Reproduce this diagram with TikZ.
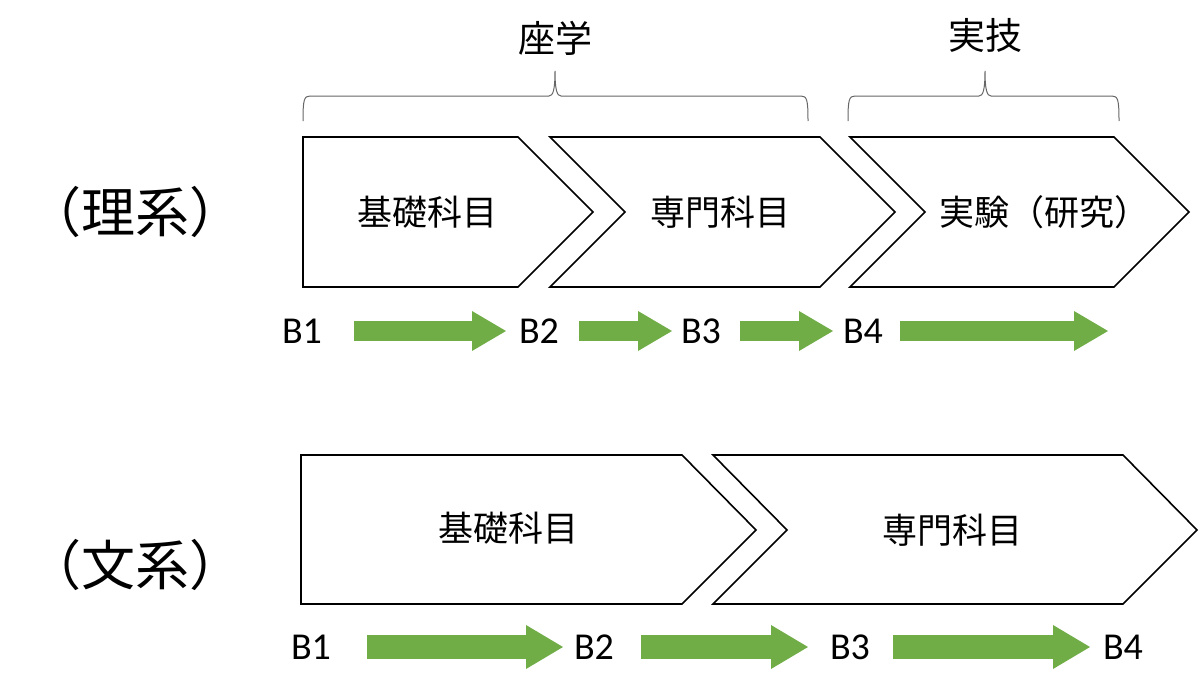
\documentclass[tikz,border=0pt]{standalone}
\usepackage{fontspec}
\setmainfont{Carlito}
\newfontfamily\jpfont{Noto Sans CJK JP}
\usetikzlibrary{arrows.meta}
\definecolor{arrowgreen}{HTML}{70AD47}

\begin{document}
\begin{tikzpicture}[x=0.5pt,y=-0.5pt,join=miter, % coordinates in pixels of the slide
    chev/.style={draw=black,line width=0.8pt,fill=white},
    brc/.style={draw=black!60,line width=0.5pt},
    jlabel/.style={font=\jpfont\fontsize{17.5}{21}\selectfont},
    jtitle/.style={font=\jpfont\fontsize{18.5}{22}\selectfont},
    jside/.style={font=\jpfont\fontsize{27}{32}\selectfont},
    blabel/.style={font=\fontsize{19}{22}\selectfont,inner sep=0pt},
    garrow/.style={draw=arrowgreen,line width=10pt,
        -{Triangle[length=17pt,width=20pt,line width=0pt]}},
    garrowb/.style={draw=arrowgreen,line width=12pt,
        -{Triangle[length=18.5pt,width=22pt,line width=0pt]}}]
   \useasboundingbox (0,0) rectangle (1200,696);
   % braces
   \draw[brc] (303,121) .. controls (303,100) and (304,96) .. (310,96) -- (549,96)
        .. controls (553,96) and (555,90) .. (555,71)
        .. controls (555,90) and (557,96) .. (561,96) -- (801,96)
        .. controls (807,96) and (808,100) .. (808,121);
   \draw[brc] (848,121) .. controls (848,100) and (849,96) .. (855,96) -- (979,96)
        .. controls (983,96) and (985,90) .. (985,71)
        .. controls (985,90) and (987,96) .. (991,96) -- (1112,96)
        .. controls (1118,96) and (1119,100) .. (1119,121);
   \node[jtitle] (zagaku) at (555,38) {座学};
   \node[jtitle] (jitsugi) at (985,35) {実技};
   % science course
   \filldraw[chev] (303,137)--(518,137)--(593,212)--(518,287)--(303,287)--cycle;
   \filldraw[chev] (550,137)--(820,137)--(895,212)--(820,287)--(550,287)--(625,212)--cycle;
   \filldraw[chev] (850,137)--(1114,137)--(1189,212)--(1114,287)--(850,287)--(925,212)--cycle;
   \node[jside] (rikei) at (135,212) {（理系）};
   \node[jlabel] (kiso1) at (427,212) {基礎科目};
   \node[jlabel] (senmon1) at (720,212) {専門科目};
   \node[jlabel] (jikken) at (1044,212) {実験（研究）};
   \node[blabel] (r1) at (302,331) {B1};
   \node[blabel] (r2) at (539,331) {B2};
   \node[blabel] (r3) at (701,331) {B3};
   \node[blabel] (r4) at (863,331) {B4};
   \coordinate (r5) at (1108,331);
   \draw[garrow,shorten <=26pt,shorten >=16.5pt] (r1.center) -- (r2.center);
   \draw[garrow,shorten <=20pt,shorten >=14.5pt] (r2.center) -- (r3.center);
   \draw[garrow,shorten <=19.5pt,shorten >=15pt] (r3.center) -- (r4.center);
   \draw[garrow,shorten <=18.5pt] (r4.center) -- (r5);
   % humanities course
   \filldraw[chev] (301,455)--(682,455)--(756,530)--(682,604)--(301,604)--cycle;
   \filldraw[chev] (713,455)--(1123,455)--(1197,530)--(1123,604)--(713,604)--(787,530)--cycle;
   \node[jside] (bunkei) at (135,565) {（文系）};
   \node[jlabel] (kiso2) at (508,528) {基礎科目};
   \node[jlabel] (senmon2) at (952,530) {専門科目};
   \node[blabel] (h1) at (311,647) {B1};
   \node[blabel] (h2) at (594,647) {B2};
   \node[blabel] (h3) at (850,647) {B3};
   \node[blabel] (h4) at (1123,647) {B4};
   \draw[garrowb,shorten <=28pt,shorten >=15.5pt] (h1.center) -- (h2.center);
   \draw[garrowb,shorten <=23.5pt,shorten >=21pt] (h2.center) -- (h3.center);
   \draw[garrowb,shorten <=21.5pt,shorten >=16.5pt] (h3.center) -- (h4.center);
\end{tikzpicture}
\end{document}
